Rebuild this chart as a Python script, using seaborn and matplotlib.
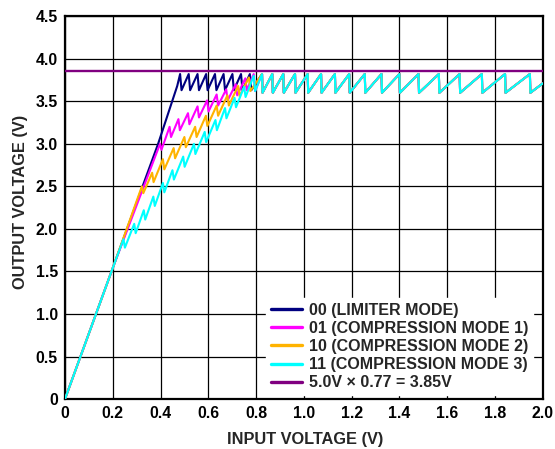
import numpy as np
import pandas as pd
import matplotlib
matplotlib.use('Agg')
import matplotlib.pyplot as plt
import seaborn as sns

# ── data (input V, output V) ─────────────────────────────────────────────────
# saturated sawtooth shared by every mode above ~0.8 V
tail_x = [0.825, 0.827, 0.868, 0.870, 0.914, 0.916, 0.963, 0.965, 1.016, 1.018,
          1.072, 1.074, 1.130, 1.132, 1.190, 1.192, 1.255, 1.257, 1.325, 1.327,
          1.400, 1.402, 1.480, 1.482, 1.565, 1.567, 1.652, 1.654, 1.745, 1.747,
          1.842, 1.844, 1.946, 1.948, 2.000]
tail_y = [3.82, 3.60, 3.82, 3.60, 3.82, 3.60, 3.82, 3.60, 3.82, 3.60,
          3.82, 3.60, 3.82, 3.60, 3.82, 3.60, 3.82, 3.60, 3.82, 3.60,
          3.82, 3.60, 3.82, 3.60, 3.82, 3.60, 3.82, 3.60, 3.82, 3.60,
          3.82, 3.60, 3.82, 3.60, 3.71]

lim_x = [0, 0.2, 0.39, 0.47, 0.482, 0.488, 0.518, 0.524, 0.555, 0.561, 0.591, 0.597,
         0.628, 0.634, 0.664, 0.670, 0.701, 0.707, 0.737, 0.743, 0.774, 0.780]
lim_y = [0, 1.54, 3.00, 3.68, 3.82, 3.63, 3.82, 3.63, 3.82, 3.63, 3.82, 3.63,
         3.82, 3.63, 3.82, 3.63, 3.82, 3.63, 3.82, 3.63, 3.82, 3.63]

c1_x = [0, 0.2, 0.398, 0.404, 0.438, 0.444, 0.475, 0.481, 0.515, 0.521, 0.555, 0.561,
        0.595, 0.601, 0.635, 0.641, 0.675, 0.681, 0.715, 0.721, 0.755, 0.761, 0.790, 0.796]
c1_y = [0, 1.54, 3.00, 2.93, 3.20, 3.08, 3.29, 3.16, 3.36, 3.23, 3.44, 3.31,
        3.51, 3.38, 3.58, 3.45, 3.64, 3.51, 3.70, 3.57, 3.77, 3.63, 3.82, 3.62]

c2_x = [0, 0.2, 0.322, 0.328, 0.365, 0.371, 0.410, 0.416, 0.455, 0.461, 0.500, 0.506,
        0.545, 0.551, 0.590, 0.596, 0.635, 0.641, 0.680, 0.686, 0.725, 0.731, 0.770, 0.776]
c2_y = [0, 1.54, 2.50, 2.42, 2.66, 2.55, 2.82, 2.70, 2.95, 2.83, 3.08, 2.96,
        3.20, 3.08, 3.33, 3.21, 3.45, 3.33, 3.57, 3.45, 3.68, 3.56, 3.78, 3.62]

c3_x = [0, 0.2, 0.245, 0.251, 0.290, 0.296, 0.330, 0.336, 0.370, 0.376, 0.410, 0.416,
        0.450, 0.456, 0.495, 0.501, 0.540, 0.546, 0.585, 0.591, 0.630, 0.636, 0.670, 0.676,
        0.710, 0.716, 0.750, 0.756, 0.790, 0.796]
c3_y = [0, 1.54, 1.88, 1.78, 2.06, 1.95, 2.22, 2.11, 2.38, 2.27, 2.54, 2.43,
        2.69, 2.58, 2.85, 2.73, 3.00, 2.88, 3.14, 3.02, 3.28, 3.16, 3.42, 3.30,
        3.54, 3.43, 3.67, 3.55, 3.80, 3.62]

ref_x = [0, 2.0]
ref_y = [3.85, 3.85]

labels = ['00 (LIMITER MODE)', '01 (COMPRESSION MODE 1)', '10 (COMPRESSION MODE 2)',
          '11 (COMPRESSION MODE 3)', '5.0V × 0.77 = 3.85V']
colors = ['#000080', '#FF00FF', '#FFB300', '#00FFFF', '#800080']

x_ticks = [0, 0.2, 0.4, 0.6, 0.8, 1.0, 1.2, 1.4, 1.6, 1.8, 2.0]
x_tlbl = ['0', '0.2', '0.4', '0.6', '0.8', '1.0', '1.2', '1.4', '1.6', '1.8', '2.0']
y_ticks = [0, 0.5, 1.0, 1.5, 2.0, 2.5, 3.0, 3.5, 4.0, 4.5]
y_tlbl = ['0', '0.5', '1.0', '1.5', '2.0', '2.5', '3.0', '3.5', '4.0', '4.5']

# ── plot ─────────────────────────────────────────────────────────────────────
sns.set_style('white')
plt.rcParams['font.family'] = ['Liberation Sans', 'DejaVu Sans']
plt.rcParams['font.weight'] = 'bold'

fig = plt.figure(figsize=(5.55, 4.49), dpi=100)
ax = fig.add_axes([0.117, 0.111, 0.861, 0.853])

series = [(lim_x + tail_x, lim_y + tail_y), (c1_x + tail_x, c1_y + tail_y),
          (c2_x + tail_x, c2_y + tail_y), (c3_x + tail_x, c3_y + tail_y), (ref_x, ref_y)]
for (xs, ys), lbl, col in zip(series, labels, colors):
    d = pd.DataFrame({'x': xs, 'y': ys})
    lw = 1.7 if lbl.startswith('5.0') else 1.5
    sns.lineplot(data=d, x='x', y='y', sort=False, estimator=None, color=col,
                 lw=lw, label=lbl, ax=ax, zorder=3)

ax.set_xlim(0, 2.0); ax.set_ylim(0, 4.5)
ax.set_xticks(x_ticks); ax.set_xticklabels(x_tlbl)
ax.set_yticks(y_ticks); ax.set_yticklabels(y_tlbl)
ax.tick_params(length=0, labelsize=11.4, pad=5, colors='black')
ax.grid(True, color='black', lw=0.9, zorder=0)
ax.set_axisbelow(True)
for sp in ax.spines.values():
    sp.set_edgecolor('black'); sp.set_linewidth(1.6)
ax.set_xlabel('INPUT VOLTAGE (V)', fontsize=11.8, fontweight='bold')
ax.set_ylabel('OUTPUT VOLTAGE (V)', fontsize=11.8, fontweight='bold')
ax.xaxis.set_label_coords(0.502, -0.086)
ax.yaxis.set_label_coords(-0.077, 0.515)

leg = ax.legend(loc='lower right', bbox_to_anchor=(0.979, 0.0104), borderaxespad=0,
                frameon=True, fancybox=False, framealpha=1, edgecolor='white',
                facecolor='white', prop={'size': 11.5, 'weight': 'bold'},
                handlelength=1.95, handletextpad=0.4, labelspacing=0.2, borderpad=0.3)
for h in leg.get_lines():
    h.set_linewidth(2.4)
leg.set_zorder(5)

plt.savefig('out.png', dpi=100)
